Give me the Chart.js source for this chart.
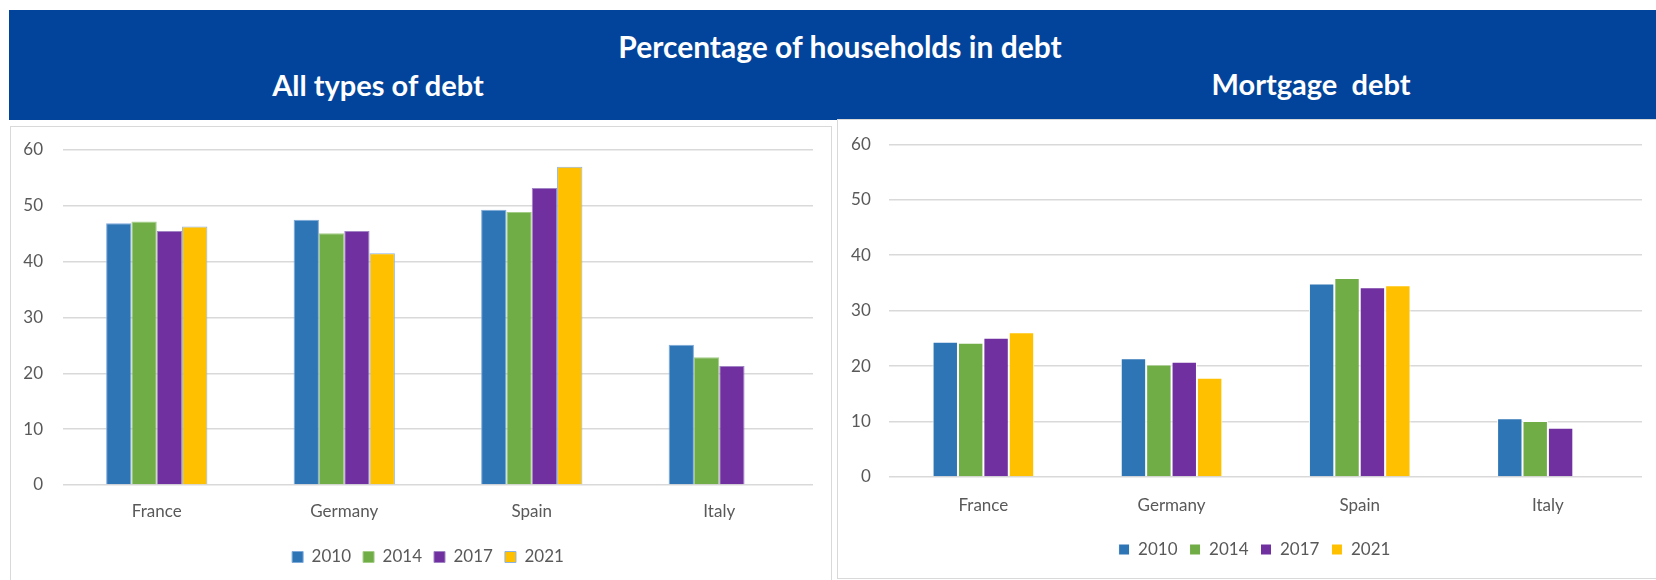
<!DOCTYPE html>
<html>
<head>
<meta charset="utf-8">
<title>Percentage of households in debt</title>
<script src="https://cdn.jsdelivr.net/npm/chart.js@4.4.1/dist/chart.umd.min.js"></script>
<style>
  body { margin: 0; width: 1656px; height: 580px; background: #fff; position: relative; overflow: hidden; font-family: Lato, sans-serif; }
  .banner { position: absolute; left: 9px; top: 10px; width: 1647px; height: 110px; background: #02449b; }
  .head { position: absolute; color: #fff; font-weight: bold; font-size: 29px; line-height: 29px; white-space: pre; transform: translateX(-50%); }
  .box { position: absolute; box-sizing: border-box; border: 1px solid #d9d9d9; background: #fff; }
  canvas { position: absolute; }
</style>
</head>
<body>
<div class="banner"></div>
<div class="head" style="left:840px; top:31px; font-size:30px; line-height:30px;">Percentage of households in debt</div>
<div class="head" style="left:378px; top:70px;">All types of debt</div>
<div class="head" style="left:1311px; top:69px;">Mortgage  debt</div>
<div class="box" style="left:10px; top:126px; width:822px; height:470px;"></div>
<div class="box" style="left:837px; top:119px; width:830px; height:460px;"></div>
<canvas id="allDebt" width="820" height="453" style="left:11px; top:127px;"></canvas>
<canvas id="mortgage" width="818" height="457" style="left:838px; top:120px;"></canvas>
<script>
// categories and series
const countries = ['France', 'Germany', 'Spain', 'Italy'];
const years = ['2010', '2014', '2017', '2021'];
const yearColors = ['#2e75b6', '#70ad47', '#7030a0', '#ffc000'];

// % of households with any debt
const allDebt2010 = [46.9, 47.5, 49.3, 25.1];
const allDebt2014 = [47.2, 45.1, 48.9, 22.9];
const allDebt2017 = [45.5, 45.5, 53.2, 21.3];
const allDebt2021 = [46.3, 41.5, 57.0, null];

// % of households with a mortgage
const mortgage2010 = [24.4, 21.4, 34.9, 10.6];
const mortgage2014 = [24.2, 20.3, 35.9, 10.1];
const mortgage2017 = [25.1, 20.8, 34.2, 8.9];
const mortgage2021 = [26.1, 17.9, 34.6, null];

const yMin = 0;
const yMax = 60;
const yStep = 10;

const textGrey = '#595959';
const gridGrey = '#d9d9d9';

// nudges the bottom legend sideways so it sits under the plot like the Excel one
const legendShift = {
  id: 'legendShift',
  afterLayout(chart, args, opts) {
    if (chart.legend && opts.by) {
      chart.legend.left += opts.by;
    }
  }
};

function makeChart(id, series, borders, lay) {
  const datasets = series.map((values, i) => ({
    label: years[i],
    data: values,
    backgroundColor: yearColors[i],
    borderColor: borders[i],
    borderWidth: 1
  }));

  return new Chart(document.getElementById(id), {
    type: 'bar',
    data: { labels: countries, datasets: datasets },
    plugins: [legendShift],
    options: {
      responsive: false,
      animation: false,
      devicePixelRatio: 1,
      datasets: { bar: { barPercentage: 1, categoryPercentage: 0.54 } },
      layout: { padding: lay.padding },
      plugins: {
        tooltip: { enabled: false },
        legendShift: { by: lay.legendBy },
        legend: {
          position: 'bottom',
          labels: {
            boxWidth: 11,
            boxHeight: 11,
            padding: 12,
            color: textGrey,
            font: { family: 'Lato', size: 17 }
          }
        }
      },
      scales: {
        x: {
          grid: { display: false },
          border: { display: false },
          ticks: { color: textGrey, padding: lay.xPad, font: { family: 'Lato', size: 17 } },
          afterFit: (scale) => { scale.height = lay.xHeight; }
        },
        y: {
          min: yMin,
          max: yMax,
          // invisible tick marks keep the labels off the plot without adding top padding
          grid: { color: gridGrey, lineWidth: 1.5, drawTicks: true, tickLength: lay.yTick, tickColor: 'rgba(0,0,0,0)' },
          border: { display: false },
          ticks: { stepSize: yStep, color: textGrey, padding: 5, font: { family: 'Lato', size: 17 } },
          afterFit: (scale) => { scale.width = lay.yWidth; }
        }
      }
    }
  });
}

makeChart('allDebt',
  [allDebt2010, allDebt2014, allDebt2017, allDebt2021],
  ['#7fa9d9', '#a3cd85', '#a184c4', '#8db3e2'],
  { padding: { top: 23, left: 0, right: 18, bottom: 4.5 }, xPad: 8, xHeight: 51.5, yTick: 15, yWidth: 52, legendBy: 32 });

makeChart('mortgage',
  [mortgage2010, mortgage2014, mortgage2017, mortgage2021],
  ['#ffffff', '#ffffff', '#ffffff', '#ffffff'],
  { padding: { top: 24.3, left: 0, right: 14, bottom: 9 }, xPad: 10, xHeight: 52, yTick: 13.5, yWidth: 51.3, legendBy: 29 });
</script>
</body>
</html>
